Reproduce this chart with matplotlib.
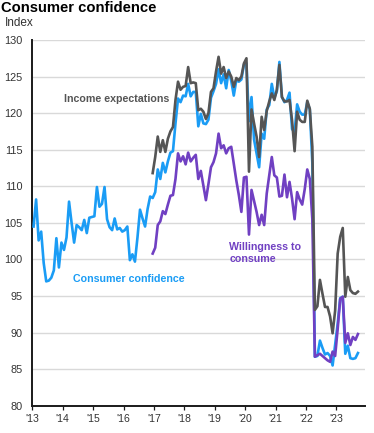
import matplotlib
matplotlib.use("Agg")
import matplotlib.pyplot as plt
import numpy as np

plt.rcParams['font.family'] = ['Liberation Sans', 'DejaVu Sans']

# Monthly data, Jan 2013 - Sep 2023
consumer_confidence = [
    104.5, 108.2, 102.6, 103.8, 99.5, 97.0, 97.1, 97.5, 98.5, 102.9, 98.9, 102.3,   # 2013
    101.3, 103.0, 107.9, 105.0, 102.3, 104.7, 104.4, 104.0, 105.4, 103.6, 105.7, 105.8,  # 2014
    105.9, 109.9, 107.2, 107.6, 109.9, 105.5, 104.4, 104.0, 105.6, 104.1, 104.3, 103.8,  # 2015
    104.0, 104.5, 99.9, 100.7, 99.7, 103.0, 106.8, 105.6, 104.5, 106.9, 108.6, 108.4,   # 2016
    109.2, 112.3, 111.0, 113.2, 111.9, 113.4, 114.6, 114.8, 118.6, 122.0, 121.5, 122.4,  # 2017
    122.3, 124.0, 122.3, 122.9, 122.9, 118.2, 119.9, 118.6, 118.5, 119.1, 122.1, 123.0,  # 2018
    124.0, 126.0, 124.1, 125.3, 123.4, 125.9, 124.4, 122.4, 124.5, 124.3, 124.6, 126.6,  # 2019
    126.8, 118.9, 122.2, 116.4, 114.5, 112.6, 117.2, 116.5, 120.5, 121.1, 124.0, 122.1,  # 2020
    123.0, 127.0, 122.2, 121.5, 121.8, 122.8, 117.8, 117.5, 121.2, 120.2, 119.8, 119.8,  # 2021
    121.5, 120.5, 113.2, 86.7, 86.8, 88.9, 87.9, 87.0, 87.2, 86.8, 85.5, 88.3,          # 2022
    91.2, 94.7, 94.9, 87.1, 88.2, 86.5, 86.4, 86.5, 87.2,                              # 2023
]

# Monthly data, Dec 2016 - Sep 2023
income_expectations = [
    111.8,                                                                              # Dec 2016
    114.0, 116.8, 114.7, 116.3, 114.7, 116.5, 117.5, 118.1, 121.8, 124.3, 123.2, 123.6,  # 2017
    123.7, 126.3, 124.1, 124.2, 124.1, 120.4, 120.6, 120.2, 119.2, 120.0, 122.9, 123.4,  # 2018
    125.7, 127.7, 125.4, 126.3, 124.8, 125.7, 125.0, 123.6, 124.8, 124.5, 125.0, 126.8,  # 2019
    127.5, 112.0, 120.5, 118.6, 116.8, 114.0, 119.5, 117.7, 120.3, 121.6, 122.7, 121.8,  # 2020
    123.2, 126.6, 122.2, 121.6, 121.6, 121.8, 119.0, 114.8, 120.2, 119.1, 118.8, 118.8,  # 2021
    121.7, 120.6, 115.4, 93.1, 93.6, 97.2, 95.3, 93.5, 93.5, 92.2, 89.9, 93.0,          # 2022
    100.8, 103.1, 104.3, 94.9, 97.6, 95.8, 95.4, 95.3, 95.6,                           # 2023
]

willingness_to_consume = [
    100.8,                                                                              # Dec 2016
    101.6, 104.7, 105.2, 106.6, 106.2, 107.5, 108.7, 108.8, 111.0, 114.5, 113.4, 114.1,  # 2017
    113.0, 114.6, 113.4, 113.9, 114.3, 111.0, 112.1, 110.1, 108.1, 110.3, 112.6, 113.3,  # 2018
    114.5, 117.2, 115.2, 115.6, 114.5, 115.2, 115.4, 113.1, 110.8, 108.8, 106.5, 111.2,  # 2019
    111.3, 103.4, 109.5, 108.0, 106.5, 104.7, 106.1, 104.7, 109.0, 111.5, 114.0, 111.5,  # 2020
    111.2, 108.6, 108.7, 111.6, 108.5, 110.6, 108.3, 105.5, 109.2, 108.2, 107.5, 109.6,  # 2021
    112.3, 111.0, 105.5, 86.7, 86.9, 87.1, 86.8, 86.5, 86.2, 86.0, 87.4, 86.8,          # 2022
    90.5, 94.6, 94.9, 88.6, 89.9, 88.3, 89.4, 89.0, 89.8,                              # 2023
]

year_ticks = list(range(2013, 2024))
year_labels = ["'13", "'14", "'15", "'16", "'17", "'18", "'19", "'20", "'21", "'22", "'23"]

# month positions (mid-month)
x_cc = 2013 + (np.arange(len(consumer_confidence)) + 0.5) / 12
start_sub = 47  # Dec 2016
x_sub = 2013 + (np.arange(start_sub, start_sub + len(income_expectations)) + 0.5) / 12

BLUE = '#1a9cf5'
GRAY = '#555555'
PURPLE = '#7040c2'

fig = plt.figure(figsize=(3.74, 4.33), dpi=100)
ax = fig.add_axes([32.3 / 374, 1 - 405.7 / 433, (365 - 32.3) / 374, (405.7 - 40) / 433])

ax.plot(x_cc, consumer_confidence, color=BLUE, lw=1.9, zorder=3, solid_joinstyle='round')
ax.plot(x_sub, willingness_to_consume, color=PURPLE, lw=1.9, zorder=4, solid_joinstyle='round')
ax.plot(x_sub, income_expectations, color=GRAY, lw=1.9, zorder=5, solid_joinstyle='round')

ax.set_xlim(2013, 2023.94)
ax.set_ylim(80, 130)
ax.set_yticks(range(80, 131, 5))
ax.set_xticks(year_ticks)
ax.set_xticklabels(year_labels)

ax.grid(axis='y', color='#d9d9d9', lw=1.0, zorder=0)
ax.set_axisbelow(True)
for s in ['top', 'right']:
    ax.spines[s].set_visible(False)
for s in ['left', 'bottom']:
    ax.spines[s].set_color('#1a1a1a')
    ax.spines[s].set_linewidth(1.4)

ax.tick_params(axis='y', length=0, pad=7, labelsize=7.8, labelcolor='#333333')
ax.tick_params(axis='x', length=3, width=0.9, color='#1a1a1a', pad=3, labelsize=7.6, labelcolor='#333333')

ax.text(2014.04, 122.0, 'Income expectations', color=GRAY, fontsize=7.7,
        fontweight='bold', ha='left', va='center')
ax.text(2014.33, 97.26, 'Consumer confidence', color=BLUE, fontsize=7.7,
        fontweight='bold', ha='left', va='center')
ax.text(2019.48, 100.86, 'Willingness to\nconsume', color=PURPLE, fontsize=7.7,
        fontweight='bold', ha='left', va='center', linespacing=1.2)

fig.text(1 / 374, 1 - 7.5 / 433, 'Consumer confidence', fontsize=10.6, fontweight='bold',
         color='black', ha='left', va='center')
fig.text(4.7 / 374, 1 - 23.3 / 433, 'Index', fontsize=8.5, color='#333333',
         ha='left', va='center')

fig.savefig('out.png', dpi=100)
